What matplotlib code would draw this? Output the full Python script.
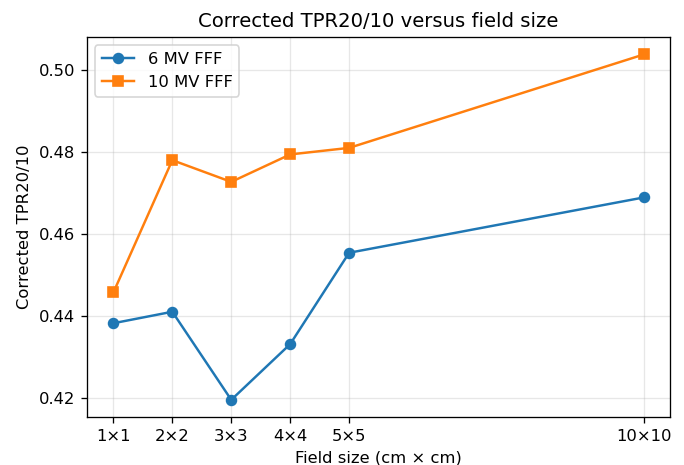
import matplotlib
matplotlib.use('Agg')
import matplotlib.pyplot as plt

# field sizes (side length in cm) and labels
field_sizes = [1, 2, 3, 4, 5, 10]
field_labels = ['1×1', '2×2', '3×3', '4×4', '5×5', '10×10']

# corrected TPR20/10
tpr_6mv = [0.4383, 0.4411, 0.4196, 0.4332, 0.4555, 0.4690]
tpr_10mv = [0.4458, 0.4781, 0.4728, 0.4795, 0.4811, 0.5039]

dpi = 118
fig, ax = plt.subplots(figsize=(684 / dpi, 465 / dpi), dpi=dpi)
fig.subplots_adjust(left=0.127, right=0.980, bottom=0.103, top=0.920)

ax.plot(field_sizes, tpr_6mv, marker='o', color='#1f77b4', label='6 MV FFF')
ax.plot(field_sizes, tpr_10mv, marker='s', color='#ff7f0e', label='10 MV FFF')

ax.set_xticks(field_sizes)
ax.set_xticklabels(field_labels)
ax.set_xlabel('Field size (cm × cm)')
ax.set_ylabel('Corrected TPR20/10')
ax.set_title('Corrected TPR20/10 versus field size')
ax.grid(True, alpha=0.3)
ax.legend(loc='upper left')

fig.savefig('out.png', dpi=dpi)
